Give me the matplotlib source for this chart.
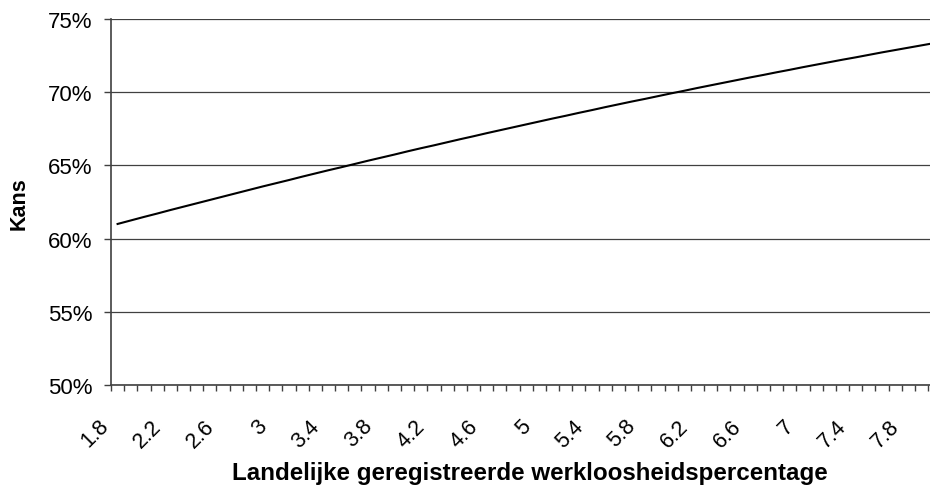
#Kans tegen landelijke werkloosheid (lijndiagram, Excel-stijl)
import matplotlib
matplotlib.use("Agg")
import matplotlib.pyplot as plt
from matplotlib.transforms import ScaledTranslation

plt.rcParams['font.family'] = ['Liberation Sans', 'DejaVu Sans']

#categorieen 1.8 t/m 8.0
werkloosheid = [1.8, 1.9, 2.0, 2.1, 2.2, 2.3, 2.4, 2.5, 2.6, 2.7,
                2.8, 2.9, 3.0, 3.1, 3.2, 3.3, 3.4, 3.5, 3.6, 3.7,
                3.8, 3.9, 4.0, 4.1, 4.2, 4.3, 4.4, 4.5, 4.6, 4.7,
                4.8, 4.9, 5.0, 5.1, 5.2, 5.3, 5.4, 5.5, 5.6, 5.7,
                5.8, 5.9, 6.0, 6.1, 6.2, 6.3, 6.4, 6.5, 6.6, 6.7,
                6.8, 6.9, 7.0, 7.1, 7.2, 7.3, 7.4, 7.5, 7.6, 7.7,
                7.8, 7.9, 8.0]
#kans in procenten
kans = [61.00, 61.24, 61.48, 61.71, 61.95, 62.18, 62.41, 62.64, 62.87, 63.10,
        63.33, 63.56, 63.78, 64.00, 64.23, 64.45, 64.67, 64.88, 65.10, 65.32,
        65.53, 65.74, 65.96, 66.17, 66.37, 66.58, 66.79, 66.99, 67.20, 67.40,
        67.60, 67.80, 68.00, 68.20, 68.39, 68.59, 68.78, 68.98, 69.17, 69.36,
        69.54, 69.73, 69.92, 70.10, 70.29, 70.47, 70.65, 70.83, 71.01, 71.18,
        71.36, 71.53, 71.71, 71.88, 72.05, 72.22, 72.38, 72.55, 72.72, 72.88,
        73.04, 73.20, 73.36]
y_ticks = [50, 55, 60, 65, 70, 75]
x_labels = ["1.8", "2.2", "2.6", "3", "3.4", "3.8", "4.2", "4.6", "5",
            "5.4", "5.8", "6.2", "6.6", "7", "7.4", "7.8"]

n = len(werkloosheid)
step = 13.18  #pixels per categorie
fig = plt.figure(figsize=(9.3, 4.89), dpi=100)
ax = fig.add_axes([111/930, 103/489, n*step/930, 366/489])

idx = list(range(n))
ax.plot(idx, kans, color="black", lw=1.5, zorder=3)

ax.set_xlim(-0.5, n-0.5)
ax.set_ylim(50, 75)
ax.set_yticks(y_ticks)
ax.set_yticklabels(["{}%".format(v) for v in y_ticks], fontsize=16)
ax.yaxis.grid(True, color="#404040", lw=0.9)
ax.set_axisbelow(True)

label_pos = [werkloosheid.index(float(s)) for s in x_labels]
ax.set_xticks(label_pos)
ax.set_xticklabels(x_labels, fontsize=15.5, rotation=45, ha="right",
                   va="center", rotation_mode="anchor")
ax.set_xticks([i-0.5 for i in range(n+1)], minor=True)
ax.tick_params(axis="x", which="major", length=0, pad=27)
ax.tick_params(axis="x", which="minor", length=4.5, width=1, color="#404040", direction="out")
ax.tick_params(axis="y", length=5, width=1, color="#404040", pad=8.5)
for lab in ax.get_xticklabels():
    lab.set_transform(lab.get_transform() + ScaledTranslation(-0.12, 0, fig.dpi_scale_trans))

for s in ["top", "right"]:
    ax.spines[s].set_visible(False)
for s in ["left", "bottom"]:
    ax.spines[s].set_color("#404040")
    ax.spines[s].set_linewidth(1.2)

ax.set_xlabel("Landelijke geregistreerde werkloosheidspercentage", fontsize=17.4, fontweight="bold")
ax.xaxis.set_label_coords((530-111)/(n*step), (386-474)/366)
ax.xaxis.label.set_va("center")
ax.set_ylabel("Kans", fontsize=15.5, fontweight="bold")
ax.yaxis.set_label_coords((19-111)/(n*step), (386-204)/366)
ax.yaxis.label.set_va("center")

fig.savefig("out.png", dpi=100)
